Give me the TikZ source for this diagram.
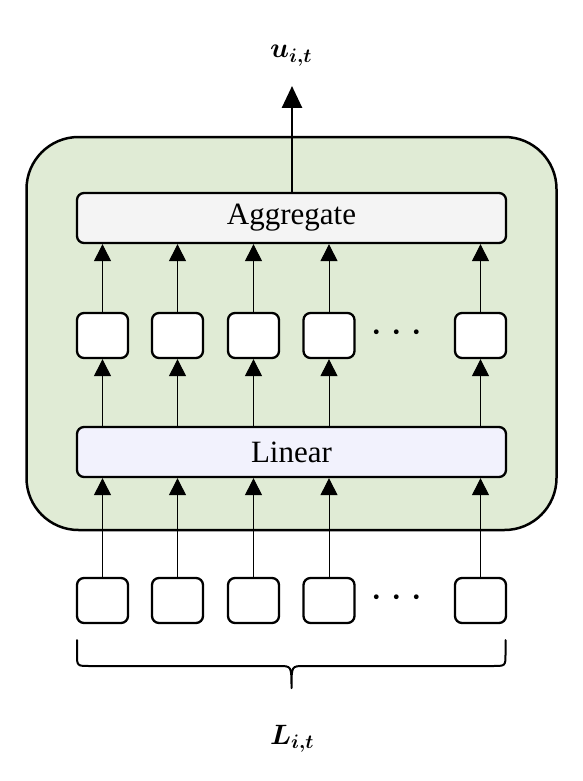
\RequirePackage{fix-cm}
\documentclass[tikz,border=0pt]{standalone}
\usepackage{amsmath}
\usepackage{fontspec}
\setmainfont{Liberation Serif}
\usetikzlibrary{arrows.meta}
\definecolor{outergreen}{RGB}{224,235,213}
\definecolor{agggray}{RGB}{244,244,244}
\definecolor{linlav}{RGB}{242,242,253}
\begin{document}
\begin{tikzpicture}[x=1pt,y=-1pt,
  cell/.style={draw=black,line width=2.3pt,rounded corners=7pt,fill=white,minimum width=51pt,minimum height=45pt,inner sep=0pt},
  wide/.style={draw=black,line width=2.3pt,rounded corners=7pt,minimum width=429pt,minimum height=50pt,inner sep=0pt,font=\fontsize{31}{31}\selectfont},
  thinarrow/.style={line width=1pt,-{Triangle[width=17pt,length=17pt]}},
  dotsnode/.style={inner sep=0pt,font=\fontsize{45}{45}\selectfont},
  mathlabel/.style={font=\fontsize{28}{28}\selectfont,anchor=base}
]
\useasboundingbox (0,0) rectangle (582,781);
% outer container
\node[draw=black,line width=2.5pt,rounded corners=52pt,fill=outergreen,minimum width=530pt,minimum height=393pt,inner sep=0pt] (outer) at (291.5,333.5) {};
% aggregate and linear
\node[wide,fill=agggray] (agg) at (291.5,218) {Aggregate};
\node[wide,fill=linlav] (lin) at (291.5,452) {Linear};
% cells
\foreach \i/\x in {1/102.5,2/177.5,3/253.5,4/329,5/480.5}{
  \node[cell] (m\i) at (\x,335.5) {};
  \node[cell] (b\i) at (\x,600.5) {};
}
\node[dotsnode] (mdots) at (400.7,333) {$\cdots$};
\node[dotsnode] (bdots) at (400.7,598) {$\cdots$};
% arrows
\foreach \i in {1,...,5}{
  \draw[thinarrow] (b\i.north) -- (b\i.north |- lin.south);
  \draw[thinarrow] (m\i.south |- lin.north) -- (m\i.south);
  \draw[thinarrow] (m\i.north) -- (m\i.north |- agg.south);
}
% output
\coordinate (outtip) at (292,86);
\draw[line width=2.7pt,-{Triangle[width=20pt,length=22pt]}] (agg.north -| outtip) -- (outtip);
\node[mathlabel] (ulabel) at (291,58) {$\boldsymbol{u}_{\boldsymbol{i,t}}$};
% brace
\coordinate (bl) at (77,640);
\coordinate (br) at (505.5,640);
\coordinate (btip) at (291.5,688);
\draw[line width=2pt,line cap=round]
  (bl) -- (77,654) .. controls (77,666) .. (90,666) -- (279,666) .. controls (291.5,666) .. (btip)
  (br) -- (505.5,654) .. controls (505.5,666) .. (492.5,666) -- (304,666) .. controls (291.5,666) .. (btip);
\node[mathlabel] (llabel) at (292,744) {$\boldsymbol{L}_{\boldsymbol{i,t}}$};
\end{tikzpicture}
\end{document}
